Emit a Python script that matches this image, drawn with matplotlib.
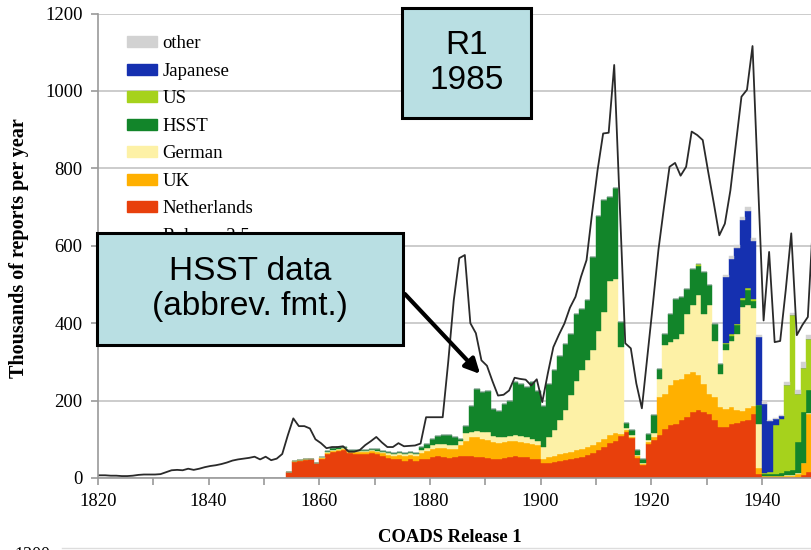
import numpy as np
import matplotlib.pyplot as plt
from matplotlib.patches import Patch, Rectangle, FancyArrowPatch
from matplotlib.lines import Line2D

# ---- data (thousands of reports per year) ----
bar_years = np.arange(1854, 1950)

netherlands = [15, 42, 45, 47, 48, 38, 50, 62, 68, 70,
               72, 65, 62, 62, 63, 65, 63, 58, 52, 50,
               50, 45, 48, 45, 50, 50, 55, 57, 55, 52,
               55, 58, 58, 56, 55, 55, 52, 50, 50, 52,
               55, 56, 55, 53, 50, 48, 38, 40, 42, 44,
               46, 48, 52, 55, 60, 65, 72, 80, 90, 95,
               108, 120, 104, 52, 33, 88, 97, 110, 127, 136,
               140, 149, 157, 170, 175, 170, 166, 150, 131, 131,
               140, 142, 148, 150, 165, 10, 2, 2, 2, 2,
               3, 3, 3, 8, 15, 20]
uk = [0, 2, 2, 2, 2, 2, 2, 3, 3, 3,
      3, 3, 4, 4, 4, 5, 5, 6, 8, 8,
      10, 12, 12, 12, 15, 20, 20, 21, 23, 23,
      21, 28, 37, 49, 50, 45, 46, 42, 40, 40,
      40, 39, 37, 37, 38, 37, 12, 15, 16, 18,
      19, 20, 20, 20, 20, 20, 20, 22, 20, 20,
      6, 4, 3, 4, 3, 5, 8, 99, 91, 103,
      112, 107, 112, 104, 90, 73, 52, 59, 52, 48,
      43, 34, 26, 30, 20, 15, 2, 2, 2, 2,
      3, 3, 8, 30, 150, 160]
german = [0, 0, 0, 0, 0, 0, 1, 1, 2, 2,
          2, 2, 3, 3, 3, 3, 3, 4, 4, 4,
          4, 5, 5, 5, 7, 8, 10, 10, 10, 11,
          10, 10, 20, 15, 17, 20, 20, 16, 15, 13,
          13, 15, 16, 15, 12, 10, 30, 50, 67, 88,
          110, 147, 178, 205, 225, 245, 288, 328, 400, 400,
          224, 4, 3, 4, 2, 5, 12, 48, 125, 112,
          108, 117, 155, 172, 207, 181, 228, 146, 86, 151,
          172, 196, 267, 266, 255, 115, 2, 2, 2, 2,
          2, 2, 2, 2, 3, 3]
hsst = [0, 0, 0, 0, 0, 0, 2, 3, 4, 4,
        4, 3, 3, 3, 3, 3, 3, 3, 3, 3,
        3, 3, 3, 3, 8, 10, 15, 20, 22, 24,
        19, 4, 20, 67, 108, 102, 108, 70, 69, 86,
        92, 137, 135, 129, 147, 131, 107, 138, 153, 166,
        172, 157, 174, 157, 154, 241, 298, 287, 216, 235,
        65, 14, 15, 12, 10, 16, 45, 25, 30, 73,
        103, 95, 65, 95, 76, 108, 52, 43, 26, 15,
        13, 23, 19, 39, 18, 48, 4, 4, 4, 6,
        10, 12, 80, 130, 60, 70]
# 1928-1949 only (zero before)
us_from_1928 = [5, 0, 0, 0, 0, 3, 3, 4, 5, 6, 4, 0, 4, 6, 128, 140, 222, 400, 125, 115, 130, 150]
japanese_from_1928 = [0, 0, 0, 0, 0, 171, 194, 196, 201, 199, 150, 176, 178, 130, 14, 8, 0, 0, 0, 0, 0, 0]
other_from_1928 = [0, 0, 0, 0, 0, 5, 8, 8, 8, 10, 8, 5, 6, 4, 3, 3, 8, 5, 10, 15, 12, 12]

line_years = np.arange(1820, 1950)
release_25 = [7, 7, 6, 6, 5, 5, 6, 8, 9, 9,
              9, 10, 15, 20, 21, 20, 24, 21, 24, 28,
              31, 33, 36, 40, 45, 48, 50, 52, 55, 48,
              55, 46, 50, 62, 110, 154, 134, 134, 128, 100,
              90, 77, 80, 80, 82, 68, 68, 72, 85, 95,
              106, 92, 80, 80, 90, 82, 83, 84, 89, 157,
              157, 157, 157, 300, 459, 568, 576, 400, 374, 304,
              290, 250, 213, 215, 226, 259, 256, 254, 239, 255,
              196, 270, 338, 370, 399, 440, 468, 520, 563, 684,
              796, 890, 892, 1067, 707, 348, 335, 244, 180, 314,
              450, 590, 700, 804, 814, 781, 804, 895, 886, 873,
              790, 710, 627, 657, 743, 865, 985, 1003, 1116, 760,
              407, 584, 351, 354, 485, 632, 369, 395, 416, 680]

pad = np.zeros(1928 - 1854)
us = np.r_[pad, us_from_1928]
japanese = np.r_[pad, japanese_from_1928]
other = np.r_[pad, other_from_1928]

series = [("Netherlands", netherlands, "#e8400c"),
          ("UK", uk, "#ffb000"),
          ("German", german, "#fdf1a6"),
          ("HSST", hsst, "#12852a"),
          ("US", us, "#a6d21c"),
          ("Japanese", japanese, "#1530b0"),
          ("other", other, "#d2d2d2")]

serif = ["Liberation Serif", "DejaVu Serif"]
sans = ["Liberation Sans", "DejaVu Sans"]
plt.rcParams["font.family"] = serif

W, H = 812, 550
fig = plt.figure(figsize=(W / 100, H / 100), dpi=100)
ax = fig.add_axes([98 / W, 1 - 478 / H, 714 / W, (478 - 13.5) / H])

bottom = np.zeros(len(bar_years))
for name, vals, col in series:
    vals = np.asarray(vals, dtype=float)
    ax.bar(bar_years, vals, width=1.0, bottom=bottom, align="edge",
           color=col, edgecolor=col, linewidth=0.3, zorder=2)
    bottom += vals

ax.plot(line_years + 0.3, release_25, color="#2a2a2a", lw=1.3, zorder=3)

ax.set_xlim(1820, 1949.05)
ax.set_ylim(0, 1200)
ax.set_yticks(range(0, 1201, 200))
ax.set_xticks(range(1820, 1950, 10))
ax.set_xticklabels([str(y) if y % 20 == 0 else "" for y in range(1820, 1950, 10)])
ax.yaxis.grid(True, color="#c4c4c4", lw=1.2)
ax.set_axisbelow(True)
for s in ["top", "right"]:
    ax.spines[s].set_visible(False)
for s in ["left", "bottom"]:
    ax.spines[s].set_color("#9a9a9a")
    ax.spines[s].set_linewidth(1.2)
ax.tick_params(direction="out", length=5, color="#9a9a9a", width=1.2,
               labelsize=13.5, pad=6)

handles = [Patch(color=c, label=n) for n, _, c in series[::-1]]
handles.append(Line2D([], [], color="#2a2a2a", lw=2, label="Release 2.5"))
leg = ax.legend(handles=handles, loc="upper left", bbox_to_anchor=(0.03, 0.969),
                frameon=False, prop={"family": serif, "size": 13.5},
                handlelength=1.6, handleheight=0.55, handletextpad=0.3,
                labelspacing=0.56, borderaxespad=0)
leg.set_zorder(5)

fig.text(19 / W, 1 - 248 / H, "Thousands of reports per year", rotation=90,
         ha="center", va="center", weight="bold", fontsize=14.5)
fig.text(450 / W, 1 - 538 / H, "COADS Release 1", ha="center", va="center",
         weight="bold", fontsize=13.4)

# next panel peeking in at the bottom
fig.text(32 / W, 1 - 555 / H, "1200", ha="center", va="center", fontsize=13)
fig.add_artist(Line2D([62 / W, 1], [1 - 548 / H, 1 - 548 / H],
                      color="#dddddd", lw=1))

box_col = "#b9dfe3"


def callout(x0, y0, x1, y1, text):
    fig.add_artist(Rectangle((x0 / W, 1 - y1 / H), (x1 - x0) / W, (y1 - y0) / H,
                             transform=fig.transFigure, facecolor=box_col,
                             edgecolor="black", lw=2.2, zorder=20))
    fig.text((x0 + x1) / 2 / W, 1 - (y0 + y1) / 2 / H, text, ha="center",
             va="center", family=sans, fontsize=24, linespacing=1.2, zorder=21)


callout(402, 8, 531, 118, "R1\n1985")
callout(97, 233, 403, 345, "HSST data\n(abbrev. fmt.)")

arrow = FancyArrowPatch((403 / W, 1 - 292 / H), (482 / W, 1 - 376 / H),
                        transform=fig.transFigure, arrowstyle="-|>",
                        mutation_scale=22, lw=3, color="black", zorder=22)
fig.add_artist(arrow)

fig.savefig("out.png", dpi=100)
